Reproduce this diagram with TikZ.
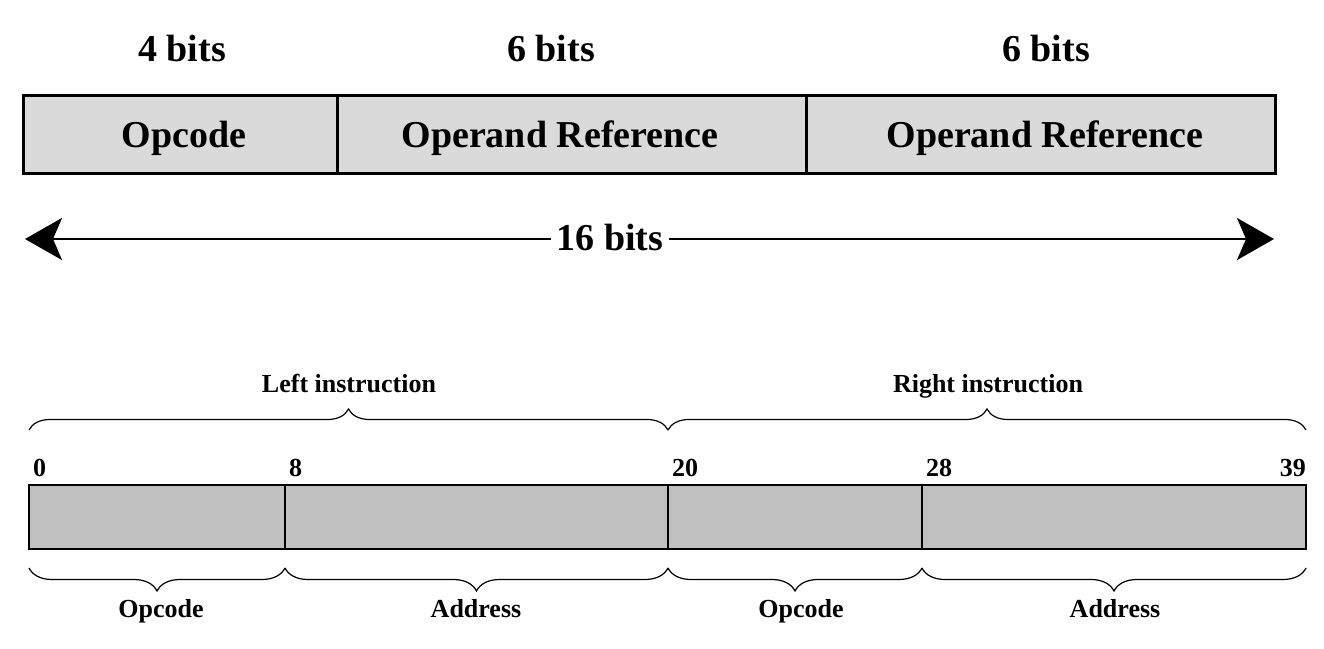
\documentclass[tikz,border=0pt]{standalone}
\usepackage{fontspec}
\setmainfont{Liberation Serif}
\usetikzlibrary{arrows.meta,decorations.pathreplacing}
\definecolor{topgray}{HTML}{DADADA}
\definecolor{botgray}{HTML}{C0C0C0}
\begin{document}
\begin{tikzpicture}[x=1pt,y=-1pt,
  topbox/.style={draw=black,line width=3pt,fill=topgray,minimum height=78pt,inner sep=0pt,outer sep=0pt,anchor=north west},
  botbox/.style={draw=black,line width=1.4pt,fill=botgray,minimum height=64pt,inner sep=0pt,outer sep=0pt,anchor=north west},
  bigtxt/.style={font=\fontsize{38}{40}\selectfont\bfseries,inner sep=0pt,anchor=base},
  smalltxt/.style={font=\fontsize{26}{28}\selectfont\bfseries,inner sep=0pt,anchor=base},
  bracedec/.style={decorate,decoration={brace,amplitude=#1},line width=1.2pt},
  dimarrow/.style={line width=2.5pt,-{Stealth[length=37pt,width=42pt,inset=9pt]}}]
\useasboundingbox (0,0) rectangle (1324,648);

% ---------- top format ----------
\node[bigtxt] (w1) at (182,61) {4 bits};
\node[bigtxt] (w2) at (551,61) {6 bits};
\node[bigtxt] (w3) at (1046,61) {6 bits};

\node[topbox,minimum width=314pt] (opbox) at (23,95) {};
\node[topbox,minimum width=469pt] (r1box) at (337,95) {};
\node[topbox,minimum width=469pt] (r2box) at (806,95) {};

\node[bigtxt] (optxt) at (184,147) {Opcode};
\node[bigtxt] (r1txt) at (560,147) {Operand Reference};
\node[bigtxt] (r2txt) at (1045,147) {Operand Reference};

\coordinate (al) at (25,239);
\coordinate (ar) at (1274,239);
\node[bigtxt,fill=white,inner sep=5pt] (len) at (610,250) {16 bits};
\draw[dimarrow] (al -| len.west) -- (al);
\draw[dimarrow] (al -| len.east) -- (ar);

% ---------- bottom word ----------
\node[botbox,minimum width=256pt] (f1) at (29,485) {};
\node[botbox,minimum width=383pt] (f2) at (285,485) {};
\node[botbox,minimum width=254pt] (f3) at (668,485) {};
\node[botbox,minimum width=384pt] (f4) at (922,485) {};

\node[smalltxt,anchor=base west] (n0) at (33,476) {0};
\node[smalltxt,anchor=base west] (n8) at (289,476) {8};
\node[smalltxt,anchor=base west] (n20) at (672,476) {20};
\node[smalltxt,anchor=base west] (n28) at (926,476) {28};
\node[smalltxt,anchor=base east] (n39) at (1306,476) {39};

\coordinate (tb0) at (29,430);
\coordinate (tb20) at (668,430);
\coordinate (tb39) at (1306,430);
\draw[bracedec=21pt] (tb0) -- (tb20);
\draw[bracedec=21pt] (tb20) -- (tb39);
\node[smalltxt] (lins) at (349,392) {Left instruction};
\node[smalltxt] (rins) at (988,392) {Right instruction};

\coordinate (bb0) at (29,568);
\coordinate (bb8) at (285,568);
\coordinate (bb20) at (668,568);
\coordinate (bb28) at (922,568);
\coordinate (bb39) at (1306,568);
\draw[bracedec=23pt] (bb8) -- (bb0);
\draw[bracedec=23pt] (bb20) -- (bb8);
\draw[bracedec=23pt] (bb28) -- (bb20);
\draw[bracedec=23pt] (bb39) -- (bb28);
\node[smalltxt] (l1) at (161,617) {Opcode};
\node[smalltxt] (l2) at (476,617) {Address};
\node[smalltxt] (l3) at (801,617) {Opcode};
\node[smalltxt] (l4) at (1115,617) {Address};
\end{tikzpicture}
\end{document}
